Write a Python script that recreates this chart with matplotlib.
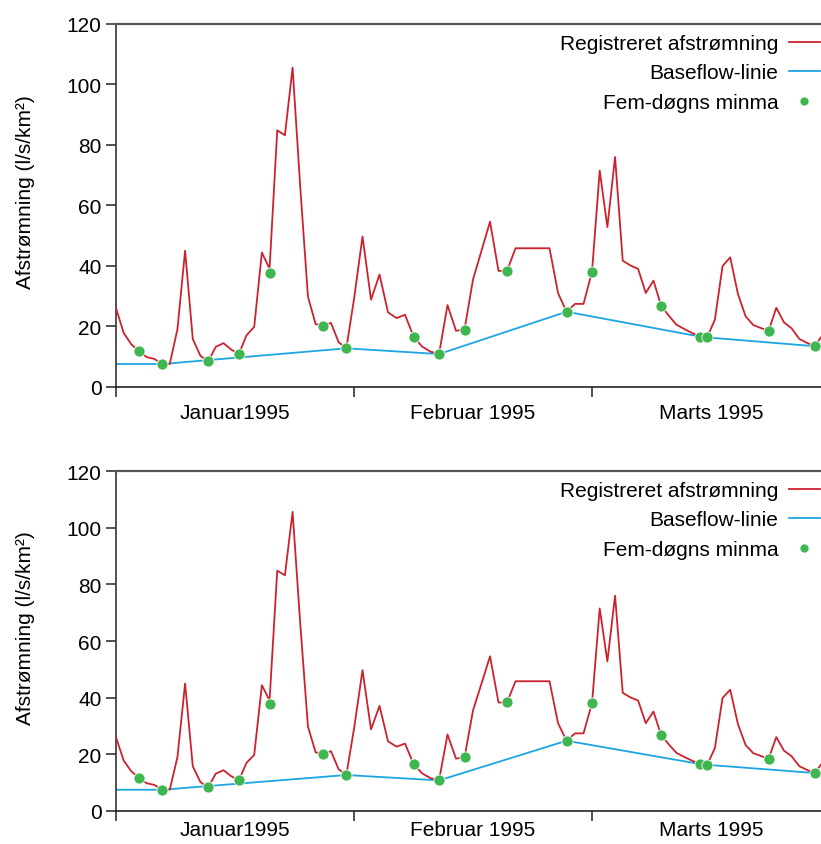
import numpy as np
import matplotlib.pyplot as plt
from matplotlib.lines import Line2D

plt.rcParams['font.family'] = ['Liberation Sans', 'DejaVu Sans']

Month_Labels = ['Januar1995', 'Februar 1995', 'Marts 1995']
Days_In_Month = [31, 28, 31]

# registered daily runoff (l/s/km2)
Jan_Flow = [26.0, 17.8, 14.0, 11.7, 9.8, 9.2, 7.5, 7.5, 19.0, 45.0,
            15.8, 10.2, 8.4, 13.2, 14.4, 12.3, 10.8, 17.0, 19.8, 44.4,
            39.0, 84.8, 83.2, 105.6, 66.0, 29.8, 20.7, 20.2, 21.1, 14.7,
            12.7]
Feb_Flow = [29.0, 49.7, 28.8, 37.1, 24.6, 22.7, 23.8, 16.6, 13.3, 11.6,
            10.8, 27.0, 18.5, 18.9, 35.5, 45.0, 54.6, 38.3, 38.3, 45.8,
            45.8, 45.8, 45.8, 45.8, 31.0, 24.8, 27.4, 27.4]
Mar_Flow = [38.1, 71.5, 52.8, 76.0, 41.7, 40.1, 39.0, 31.0, 35.1, 26.8,
            23.5, 20.5, 19.1, 17.8, 16.6, 16.3, 22.2, 39.9, 42.8, 30.7,
            23.3, 20.4, 19.4, 18.5, 26.1, 21.3, 19.3, 15.8, 14.5, 13.4,
            17.0]

# five-day minima
Min_Month = [0, 0, 0, 0, 0, 0, 0, 1, 1, 1, 1, 1, 2, 2, 2, 2, 2, 2]
Min_Day = [4, 7, 13, 17, 21, 28, 31, 8, 11, 14, 19, 26, 1, 10, 15, 16, 24, 30]
Min_Value = [11.7, 7.5, 8.4, 10.8, 37.7, 20.2, 12.7, 16.6, 10.8, 18.9, 38.3,
             24.8, 38.1, 26.8, 16.6, 16.3, 18.5, 13.4]

# baseflow line turning points
Base_Month = [0, 0, 0, 1, 1, 2, 2, 2]
Base_Day = [1, 7, 31, 11, 26, 15, 16, 30]
Base_Value = [7.5, 7.5, 12.7, 10.8, 24.8, 16.6, 16.3, 13.4]

RED = '#cc2230'
BLUE = '#1ba6e2'
GREEN = '#3fb650'
FS = 15


def DayPos(month, day):
    # every month gets the same width on the time axis
    return month + (day - 1.0) / Days_In_Month[month]


def Plot_Runoff(ax, label_pad):
    flows = [Jan_Flow, Feb_Flow, Mar_Flow]
    x_flow = []
    y_flow = []
    for m in range(3):
        for d in range(len(flows[m])):
            x_flow.append(DayPos(m, d + 1))
            y_flow.append(flows[m][d])
    x_base = [DayPos(m, d) for m, d in zip(Base_Month, Base_Day)]
    x_min = [DayPos(m, d) for m, d in zip(Min_Month, Min_Day)]

    ax.plot(x_flow, y_flow, color=RED, lw=1.3, zorder=3)
    ax.plot(x_base, Base_Value, color=BLUE, lw=1.3, zorder=2)
    ax.plot(x_min, Min_Value, 'o', color=GREEN, ms=8, mec='white', mew=0.6,
            zorder=4, clip_on=False)

    ax.set_xlim(0, 2.962)
    ax.set_ylim(0, 120)
    ax.set_yticks(np.arange(0, 121, 20))
    ax.set_xticks([0, 1, 2])
    ax.set_xticklabels([])
    ax.set_xticks([0.5, 1.5, 2.5], minor=True)
    ax.set_xticklabels(Month_Labels, minor=True)
    ax.tick_params(axis='x', which='major', direction='out', length=7.5,
                   width=1.1, color='#222222')
    ax.tick_params(axis='x', which='minor', length=0, pad=label_pad,
                   labelsize=FS)
    ax.tick_params(axis='y', direction='out', length=7.5, width=1.1,
                   color='#222222', pad=3, labelsize=FS)
    ax.spines['right'].set_visible(False)
    ax.spines['top'].set_color('#555555')
    ax.spines['top'].set_linewidth(1.6)
    ax.spines['left'].set_color('#333333')
    ax.spines['left'].set_linewidth(1.2)
    ax.spines['bottom'].set_color('#222222')
    ax.spines['bottom'].set_linewidth(1.2)

    ax.set_ylabel('Afstrømning (l/s/km²)', fontsize=FS)
    ax.yaxis.set_label_coords(-0.115, 0.54)

    # legend anchored a few pixels below the top edge
    h_px = ax.get_position().height * 845
    handles = [Line2D([], [], color=RED, lw=1.3),
               Line2D([], [], color=BLUE, lw=1.3),
               Line2D([], [], ls='none', marker='o', color=GREEN, ms=6.5,
                      mec='white', mew=0.5)]
    labels = ['Registreret afstrømning', 'Baseflow-linie', 'Fem-døgns minma']
    ax.legend(handles, labels, loc='upper right', markerfirst=False,
              frameon=False, fontsize=FS, handlelength=1.5, handletextpad=0.5,
              labelspacing=0.5, borderpad=0, borderaxespad=0,
              bbox_to_anchor=(1 - 1.0 / 705, 1 - 10.0 / h_px))


fig = plt.figure(figsize=(8.21, 8.45), dpi=100)
ax_top = fig.add_axes([116 / 821, 1 - 387.7 / 845, 705 / 821, 362.7 / 845])
ax_bot = fig.add_axes([116 / 821, 1 - 812 / 845, 705 / 821, 340 / 845])
Plot_Runoff(ax_top, 12)
Plot_Runoff(ax_bot, 6.5)

plt.savefig('out.png', dpi=100)
